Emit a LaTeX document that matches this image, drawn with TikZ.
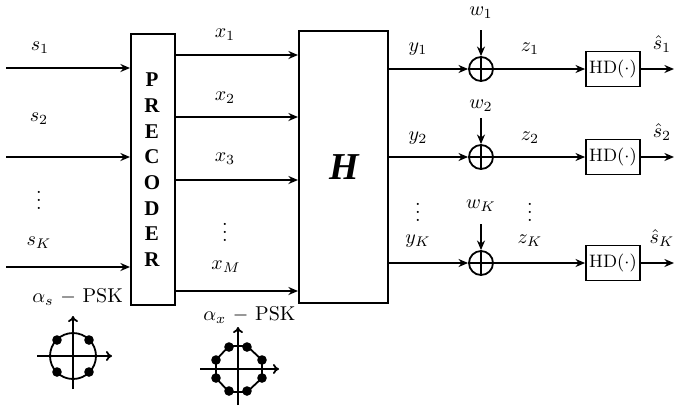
\documentclass[tikz,border=0pt]{standalone}
\usepackage{fontspec}
\newfontfamily\timesfont{Liberation Serif}
\usetikzlibrary{arrows.meta}
\tikzset{
  px/.style={x=0.5pt,y=-0.5pt},
  box/.style={draw,line width=0.9pt,inner sep=0pt,anchor=north west},
  conn/.style={line width=0.8pt,-{Stealth[length=4.8pt,width=4pt]}},
  open/.style={line width=0.9pt,-{To[length=3pt,width=5pt]}},
  lab/.style={inner sep=0pt,font=\normalsize},
  dot/.style={circle,fill=black,inner sep=0pt,minimum size=4.8pt},
  sumj/.style={draw,circle,line width=0.9pt,inner sep=0pt,minimum size=12pt,
    path picture={\draw[line width=0.9pt] (path picture bounding box.north)--(path picture bounding box.south)
      (path picture bounding box.west)--(path picture bounding box.east);}},
}
\begin{document}
\begin{tikzpicture}[px]
\useasboundingbox (0,0) rectangle (674,409);
\node[box,minimum width=22.2pt,minimum height=135.6pt] (pre) at (130,33) {};
\node[box,minimum width=44.5pt,minimum height=136pt] (H) at (298,30) {};
\node[inner sep=0pt,font=\timesfont\bfseries\itshape\fontsize{19}{19}\selectfont] (Ht) at (344,167) {H};
\foreach \n/\t/\y in {a/P/80,b/R/106,c/E/132,d/C/157,e/O/183,f/D/209,g/E/234,h/R/260}
  \node[inner sep=0pt,font=\timesfont\bfseries\fontsize{10.5}{10.5}\selectfont] (p\n) at (152,\y) {\t};
% inputs
\coordinate (i1) at (6,68); \coordinate (i2) at (6,157); \coordinate (i3) at (6,267);
\coordinate (i1e) at (130,68); \coordinate (i2e) at (130,157); \coordinate (i3e) at (130,267);
\draw[conn] (i1)--(i1e);
\draw[conn] (i2)--(i2e);
\draw[conn] (i3)--(i3e);
\node[lab] (ls1) at (40,48) {$s_1$};
\node[lab] (ls2) at (39,119) {$s_2$};
\node[lab] (lsk) at (39,243) {$s_K$};
\node[lab] (dl) at (39,194) {$\vdots$};
% x
\foreach \n/\y in {1/55,2/117,3/180,4/291}{
  \coordinate (xa\n) at (174,\y); \coordinate (xb\n) at (298,\y);
  \draw[conn] (xa\n)--(xb\n);
}
\node[lab] (lx1) at (225,35) {$x_1$};
\node[lab] (lx2) at (225,98) {$x_2$};
\node[lab] (lx3) at (225,159) {$x_3$};
\node[lab] (lx4) at (226,267) {$x_M$};
\node[lab] (dm) at (225,226) {$\vdots$};
% right rows
\foreach \n/\y/\w/\wt/\yt/\zt/\st/\wy/\ly/\sy in {1/69/30/w_1/y_1/z_1/\hat{s}_1/13/49/44,2/157/118/w_2/y_2/z_2/\hat{s}_2/106/138/132,3/263/224/w_K/y_K/z_K/\hat{s}_K/206/241/238}{
  \node[sumj] (sum\n) at (481,\y) {};
  \node[box,anchor=center,minimum width=27pt,minimum height=17.5pt,font=\small] (hd\n) at (613,\y) {HD$(\cdot)$};
  \coordinate (ya\n) at (387,\y);
  \coordinate (wa\n) at (481,\w);
  \coordinate (oe\n) at (674,\y);
  \draw[conn] (ya\n)--(sum\n);
  \draw[conn] (wa\n)--(sum\n);
  \draw[conn] (sum\n)--(hd\n);
  \draw[conn] (hd\n)--(oe\n);
  \node[lab] (lw\n) at (481,\wy) {$\wt$};
  \node[lab] (ly\n) at (418,\ly) {$\yt$};
  \node[lab] (lz\n) at (530,\ly) {$\zt$};
  \node[lab] (ls\n) at (662,\sy) {$\st$};
}
\node[lab] (d1) at (418,206) {$\vdots$};
\node[lab] (d2) at (530,206) {$\vdots$};
% constellations
\node[lab,anchor=west] (cs) at (32,297) {$\alpha_s$ $-$ PSK};
\node[lab,anchor=west] (cx) at (203,315) {$\alpha_x$ $-$ PSK};
\coordinate (c1) at (73,356);
\draw[line width=0.9pt] (c1) circle[radius=11.5pt];
\coordinate (c1l) at (37,356); \coordinate (c1r) at (112,356);
\coordinate (c1b) at (73,389); \coordinate (c1t) at (73,316);
\draw[open] (c1l)--(c1r);
\draw[open] (c1b)--(c1t);
\foreach \n/\x/\y in {a/57/340,b/89/340,c/57/372,d/89/372}
  \node[dot] (s\n) at (\x,\y) {};
\coordinate (c2l) at (200,369); \coordinate (c2r) at (279,369);
\coordinate (c2b) at (238,405); \coordinate (c2t) at (238,327);
\draw[line width=0.9pt] (229,346)--(247,346)--(262,360)--(262,378)--(247,392)--(229,392)--(216,378)--(216,360)--cycle;
\draw[open] (c2l)--(c2r);
\draw[open] (c2b)--(c2t);
\foreach \n/\x/\y in {a/229,b/247}{}
\foreach \n/\x/\y in {a/229/347,b/247/347,c/262/360,d/262/378,e/247/391,f/229/391,g/216/378,h/216/360}
  \node[dot] (o\n) at (\x,\y) {};
\end{tikzpicture}
\end{document}
